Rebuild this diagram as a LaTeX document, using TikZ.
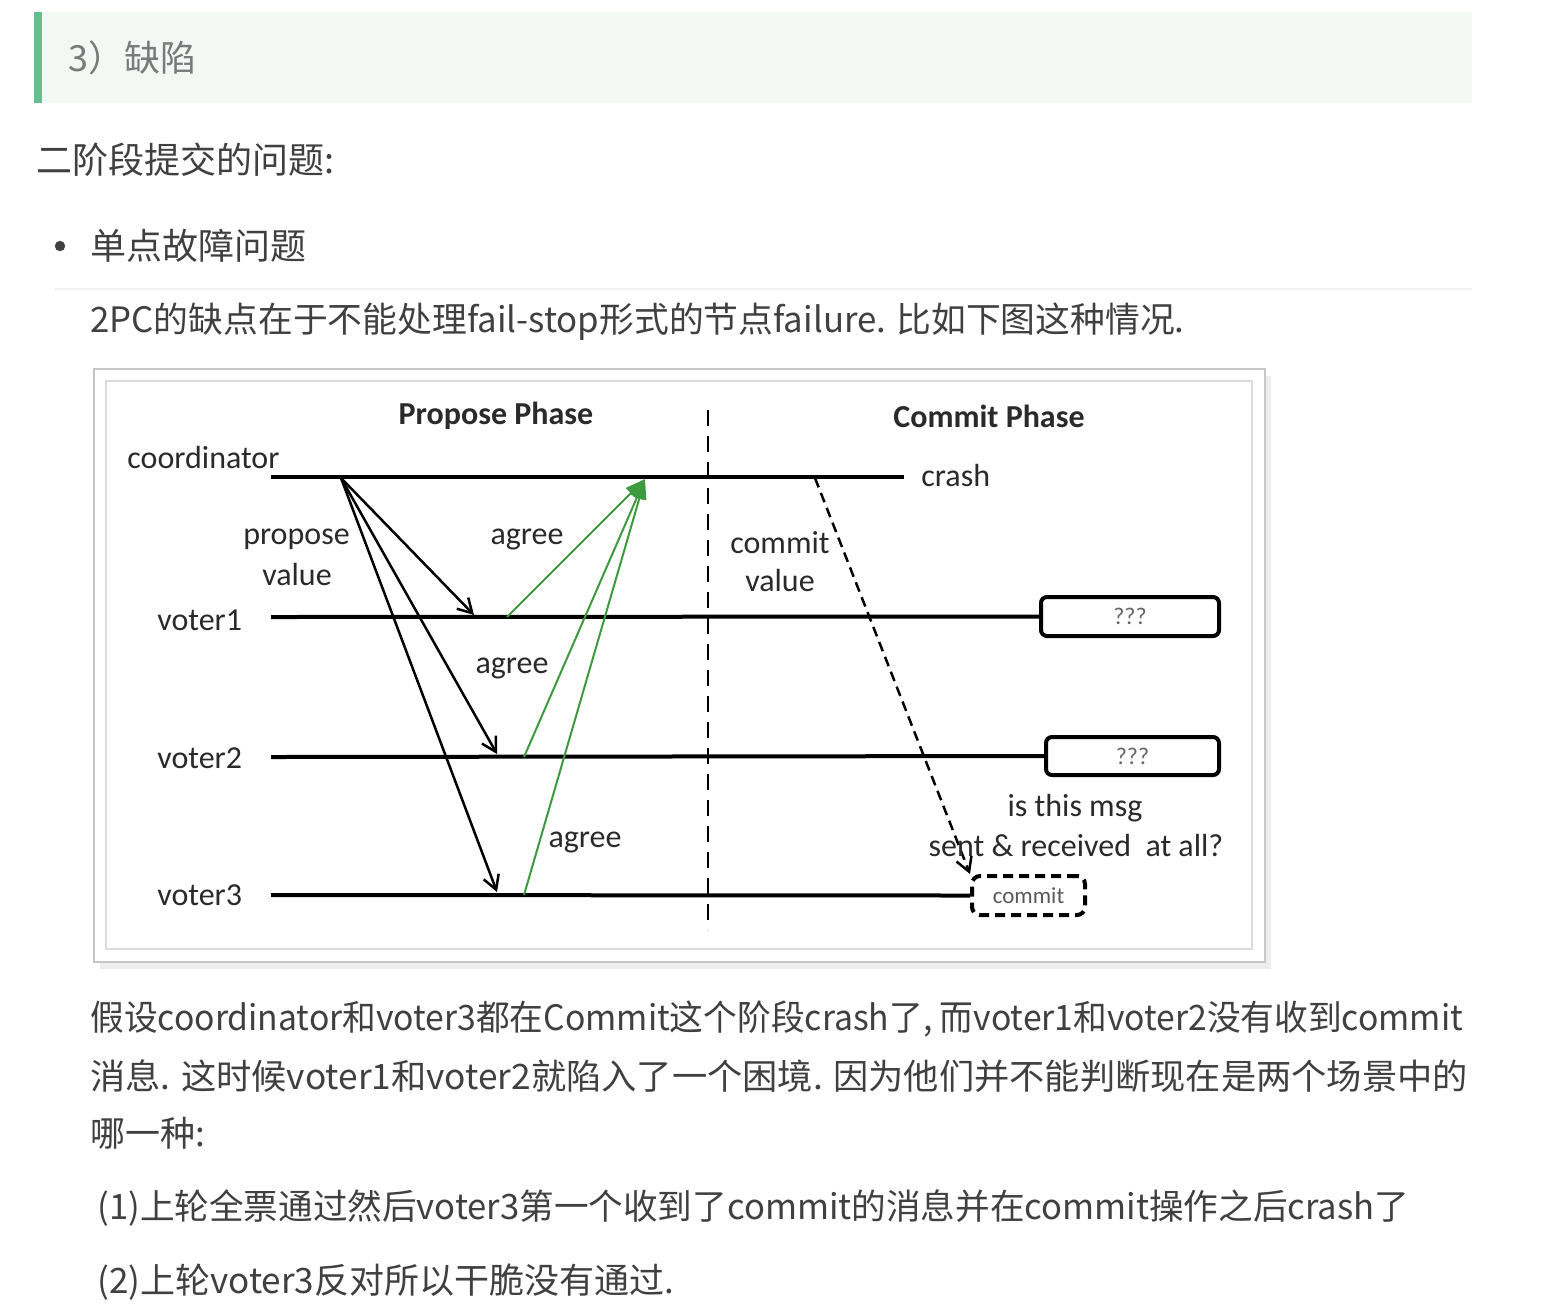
\documentclass[tikz,border=0pt]{standalone}
\usepackage{fontspec}
\usepackage{graphicx}
\setmainfont{Carlito}
\newfontfamily\cjk{Noto Sans CJK SC}
\usetikzlibrary{arrows.meta}
\definecolor{txt}{HTML}{404040}
\definecolor{hdrtxt}{HTML}{7A7A7A}
\definecolor{hdrbg}{HTML}{F3F8F5}
\definecolor{hdrbar}{HTML}{62C08F}
\definecolor{dtxt}{HTML}{2A2A2A}
\definecolor{agreeg}{HTML}{3E9A3E}
\begin{document}
\begin{tikzpicture}[x=0.5pt,y=-0.5pt,
  body/.style={font=\cjk\fontsize{17.5}{20}\selectfont, text=txt, anchor=west, inner sep=0pt},
  head/.style={font=\cjk\fontsize{18}{20}\selectfont, text=txt, anchor=west, inner sep=0pt},
  lbl/.style={font=\fontsize{16}{19}\selectfont, text=dtxt, inner sep=0pt},
  lblw/.style={lbl, anchor=west},
  life/.style={line width=2pt, draw=black},
  msg/.style={line width=1.25pt, draw=black, -{Straight Barb[length=7pt,width=8pt,line width=1.25pt]}},
  ack/.style={line width=1pt, draw=agreeg, -{Triangle[length=10pt,width=7pt,fill=agreeg]}},
  qbox/.style={draw=black, line width=2pt, rounded corners=3pt, fill=white, inner sep=0pt,
     font=\fontsize{12}{13}\selectfont, text=black!60},
]
\useasboundingbox (0,0) rectangle (1542,1314);
\fill[white] (0,0) rectangle (1542,1314);
% header
\fill[hdrbg] (34,12) rectangle (1472,103);
\fill[hdrbar] (34,12) rectangle (42,103);
\node[head, text=hdrtxt] (h3) at (68,58) {3）缺陷};
\node[head] (t1) at (36,160) {二阶段提交的问题:};
\fill[txt] (60,246) circle (2.6pt);
\node[head] (t2) at (90,246) {单点故障问题};
\draw[gray!12, line width=0.8pt] (55,289) -- (1472,289);
\node[body] (t3) at (90,322) {\scalebox{0.994}[1]{2PC的缺点在于不能处理fail-stop形式的节点failure. 比如下图这种情况.}};
% diagram frame
\fill[black!7] (100,376) rectangle (1271,969);
\draw[fill=white, draw=gray!45, line width=1pt] (94,369) rectangle (1265,962);
\draw[draw=gray!28, line width=1pt] (106,381) rectangle (1252,949);
% titles
\node[lbl, font=\bfseries\fontsize{16}{19}\selectfont] (pp) at (496,416) {Propose Phase};
\node[lbl, font=\bfseries\fontsize{16}{19}\selectfont] (cp) at (989,416) {Commit Phase};
% phase separator
\coordinate (dv0) at (708,410);
\coordinate (dv1) at (708,930);
\draw[line width=1.3pt, dash pattern=on 8pt off 5pt] (dv0) -- (dv1);
% lifelines
\node[lblw] (lc) at (127,457) {coordinator};
\node[lblw] (l1) at (157,620) {voter1};
\node[lblw] (l2) at (157,758) {voter2};
\node[lblw] (l3) at (157,895) {voter3};
\coordinate (c0) at (271,477);
\coordinate (c1) at (904,477);
\draw[life] (c0) -- (c1);
\node[lblw] (crash) at (921,475) {crash};
\node[qbox, minimum width=89pt, minimum height=19.5pt] (b1) at (1130,616.5) {???};
\node[qbox, minimum width=86.5pt, minimum height=19pt] (b2) at (1132.5,756) {???};
\node[draw=black, line width=2pt, dash pattern=on 5pt off 3pt, rounded corners=4pt, inner sep=0pt,
      minimum width=56.5pt, minimum height=19.5pt, font=\fontsize{11.5}{12}\selectfont, text=black!65] (b3) at (1028.5,895.5) {commit};
\coordinate (v1) at (271,617);
\coordinate (v2) at (271,757);
\coordinate (v3) at (271,895);
\draw[life] (v1) -- (b1.west);
\draw[life] (v2) -- (b2.west);
\draw[life] (v3) -- (b3.west);
% propose messages
\coordinate (fo) at (341,478);
\coordinate (p1) at (474,615);
\coordinate (p2) at (497,754);
\coordinate (p3) at (497,892);
\draw[msg] (fo) -- (p1);
\draw[msg] (fo) -- (p2);
\draw[msg] (fo) -- (p3);
% agree messages
\coordinate (ga) at (645,479);
\coordinate (g1) at (507,617);
\coordinate (g2) at (524,757);
\coordinate (g3) at (524,895);
\draw[ack] (g1) -- (ga);
\draw[ack] (g2) -- (ga);
\draw[ack] (g3) -- (ga);
% commit message
\coordinate (cm0) at (815,478);
\draw[msg, dash pattern=on 5pt off 3pt] (cm0) -- (b3.north west);
% labels
\node[lbl] (pv1) at (296.5,539) {propose};
\node[lbl] (pv2) at (297,574) {value};
\node[lbl] (a1) at (527,539) {agree};
\node[lbl] (a2) at (512,668) {agree};
\node[lbl] (a3) at (585,842) {agree};
\node[lbl] (cv1) at (780,543) {commit};
\node[lbl] (cv2) at (780,580) {value};
\node[lbl] (q1) at (1075,808) {is this msg};
\node[lbl] (q2) at (1076,845) {sent \& received\ \ at all?};
% bottom text
\node[body] (s1) at (90,1019) {\scalebox{0.963}[1]{假设coordinator和voter3都在Commit这个阶段crash了, 而voter1和voter2没有收到commit}};
\node[body] (s2) at (90,1076) {\scalebox{1.007}[1]{消息. 这时候voter1和voter2就陷入了一个困境. 因为他们并不能判断现在是两个场景中的}};
\node[body] (s3) at (90,1133) {哪一种:};
\node[body] (s4) at (97,1208) {\scalebox{0.989}[1]{(1)上轮全票通过然后voter3第一个收到了commit的消息并在commit操作之后crash了}};
\node[body] (s5) at (97,1282) {(2)上轮voter3反对所以干脆没有通过.};
\end{tikzpicture}
\end{document}
